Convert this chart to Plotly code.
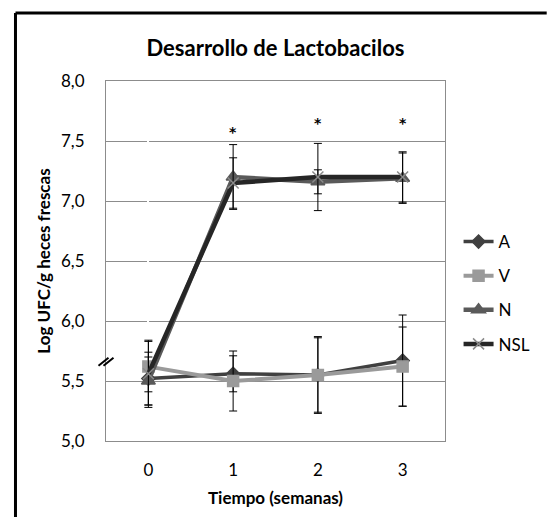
import plotly.graph_objects as go

weeks = [0, 1, 2, 3]
week_labels = ["0", "1", "2", "3"]
y_ticks = [5.0, 5.5, 6.0, 6.5, 7.0, 7.5, 8.0]

A = [5.52, 5.56, 5.55, 5.67]
A_err = [0.22, 0.15, 0.32, 0.38]
V = [5.62, 5.50, 5.55, 5.62]
V_err = [0.21, 0.25, 0.31, 0.33]
N = [5.50, 7.20, 7.16, 7.19]
N_err = [0.20, 0.27, 0.10, 0.21]
NSL = [5.56, 7.15, 7.20, 7.20]
NSL_err = [0.28, 0.21, 0.28, 0.21]

star_weeks = [1, 2, 3]
star_y = [7.59, 7.67, 7.67]

FONT = "Lato"

series = [
    ("A", A, A_err, "#404040", "#404040", "diamond", 10, 3.5),
    ("V", V, V_err, "#9a9a9a", "#9a9a9a", "square", 11, 4),
    ("N", N, N_err, "#5a5a5a", "#5a5a5a", "triangle-up", 12, 4.5),
    ("NSL", NSL, NSL_err, "#262626", "#8a8a8a", "x-thin-open", 11, 4.5),
]

fig = go.Figure()
for name, vals, err, lc, mc, sym, ms, lw in series:
    fig.add_trace(go.Scatter(
        x=weeks, y=vals, name=name, mode="lines+markers", legendgroup=name,
        line=dict(color=lc, width=lw),
        marker=dict(symbol=sym, size=ms, color=mc, line=dict(color=mc, width=1.5)),
        error_y=dict(type="data", array=err, visible=True, color="black", thickness=1, width=4),
    ))

for wx, wy in zip(star_weeks, star_y):
    fig.add_annotation(x=wx, y=wy, text="<b>*</b>", showarrow=False,
                       font=dict(family="DejaVu Sans", size=14, color="black"), yshift=-2)

# axis break mark
for dx in (-2.5, 2.5):
    fig.add_shape(type="line", xref="paper", yref="y", xsizemode="pixel", ysizemode="pixel",
                  xanchor=0, yanchor=5.66, x0=dx - 5, x1=dx + 5, y0=-4, y1=4,
                  line=dict(color="black", width=2))

# outer chart border (left and top)
fig.add_shape(type="line", xref="paper", yref="paper", x0=-0.267, x1=-0.267, y0=-0.3, y1=1.189,
              line=dict(color="black", width=3))
fig.add_shape(type="line", xref="paper", yref="paper", x0=-0.267, x1=1.3, y0=1.189, y1=1.189,
              line=dict(color="black", width=3))

fig.update_layout(
    width=548, height=517,
    margin=dict(l=106, r=79, t=81, b=76),
    paper_bgcolor="white", plot_bgcolor="white",
    separators=",.",
    font=dict(family=FONT, color="black"),
    title=dict(text="<b>Desarrollo de Lactobacilos</b>", x=0.5, xref="paper", xanchor="center",
               y=1 - 48 / 517, yref="container", yanchor="middle",
               font=dict(family=FONT, size=22, color="black")),
    showlegend=True,
    legend=dict(x=1.04, y=0.411, xanchor="left", yanchor="middle", traceorder="grouped",
                tracegroupgap=9, itemwidth=30, font=dict(family=FONT, size=17, color="black"),
                bgcolor="rgba(0,0,0,0)"),
    xaxis=dict(range=[-0.5, 3.5], tickvals=weeks, ticktext=week_labels, showgrid=False,
               showline=True, linecolor="#8c8c8c", linewidth=1, mirror=True, ticks="",
               ticklabelstandoff=14,
               tickfont=dict(family=FONT, size=17, color="black"),
               title=dict(text="<b>Tiempo (semanas)</b>", font=dict(family=FONT, size=17, color="black"),
                          standoff=12)),
    yaxis=dict(range=[5.0, 8.0], tickvals=y_ticks, tickformat=".1f", showgrid=True,
               gridcolor="#8c8c8c", gridwidth=1, zeroline=False,
               showline=True, linecolor="#8c8c8c", linewidth=1, mirror=True, ticks="",
               ticklabelstandoff=17,
               tickfont=dict(family=FONT, size=17, color="black"),
               title=dict(text="<b>Log UFC/g heces frescas</b>", font=dict(family=FONT, size=17, color="black"),
                          standoff=6)),
)

fig.write_html("out.html", config={"displayModeBar": False},
               post_script="document.body.style.margin='0';document.body.style.overflow='hidden';")
